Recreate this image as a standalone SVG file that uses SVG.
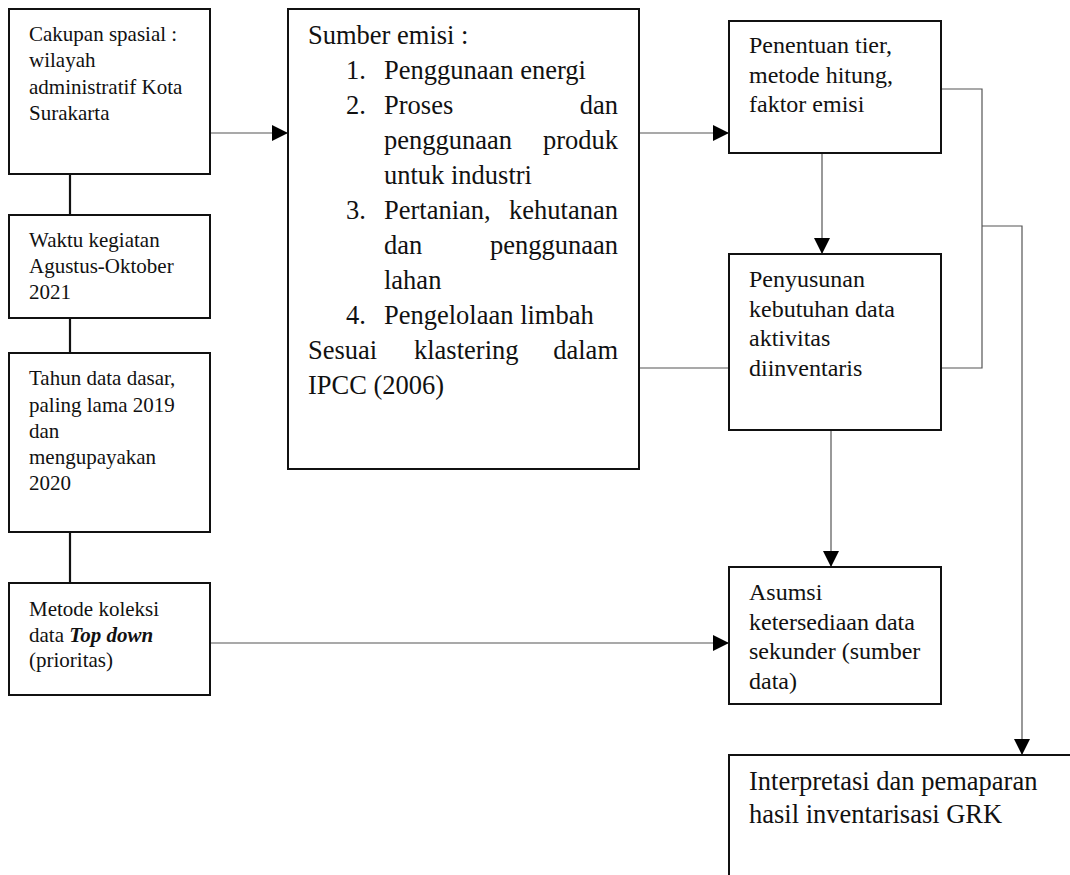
<svg xmlns="http://www.w3.org/2000/svg" width="1070" height="875" viewBox="0 0 1070 875">
<style>
.box{fill:#fff;stroke:#111;stroke-width:2}
.t{font-family:"Liberation Serif","Times New Roman",serif;fill:#111}
.s{font-size:21px}
.m{font-size:24px}
.l{font-size:26.5px}
.c{fill:none;stroke:#555;stroke-width:1.2}
.k{fill:none;stroke:#111;stroke-width:2.2}
</style>
<defs>
<marker id="ah" markerUnits="userSpaceOnUse" markerWidth="17" markerHeight="17" refX="16" refY="8" orient="auto">
<path d="M0,0 L16,8 L0,16 Z" fill="#000"/>
</marker>
</defs>
<rect width="1070" height="875" fill="#fff"/>
<g id="connectors">
<path class="k" d="M70,174 V215"/>
<path class="k" d="M70,318 V353"/>
<path class="k" d="M70,532 V583"/>
<path class="c" d="M210,133 H288" marker-end="url(#ah)"/>
<path class="c" d="M639,133 H729" marker-end="url(#ah)"/>
<path class="c" d="M822,153 V254" marker-end="url(#ah)"/>
<path class="c" d="M941,89 H982 V368 H941"/>
<path class="c" d="M982,226 H1022 V755" marker-end="url(#ah)"/>
<path class="c" d="M639,368 H729"/>
<path class="c" d="M831,430 V567" marker-end="url(#ah)"/>
<path class="c" d="M210,643 H729" marker-end="url(#ah)"/>
</g>
<g id="cakupan">
<rect class="box" x="9" y="9" width="201" height="165"/>
<text class="t s" x="29" y="40.5">Cakupan spasial :</text>
<text class="t s" x="29" y="67">wilayah</text>
<text class="t s" x="29" y="93.5">administratif Kota</text>
<text class="t s" x="29" y="120">Surakarta</text>
</g>
<g id="waktu">
<rect class="box" x="9" y="215" width="201" height="103"/>
<text class="t s" x="29" y="246.5">Waktu kegiatan</text>
<text class="t s" x="29" y="273">Agustus-Oktober</text>
<text class="t s" x="29" y="299">2021</text>
</g>
<g id="tahun">
<rect class="box" x="9" y="353" width="201" height="179"/>
<text class="t s" x="29" y="385">Tahun data dasar,</text>
<text class="t s" x="29" y="411.5">paling lama 2019</text>
<text class="t s" x="29" y="437.5">dan</text>
<text class="t s" x="29" y="464">mengupayakan</text>
<text class="t s" x="29" y="490">2020</text>
</g>
<g id="metode">
<rect class="box" x="9" y="583" width="201" height="112"/>
<text class="t s" x="29" y="616">Metode koleksi</text>
<text class="t s" x="29" y="641.5">data <tspan font-weight="bold" font-style="italic">Top down</tspan></text>
<text class="t s" x="29" y="667">(prioritas)</text>
</g>
<g id="sumber">
<rect class="box" x="288" y="9" width="351" height="460"/>
<text class="t l" x="308" y="44">Sumber emisi :</text>
<text class="t l" x="346" y="79">1.</text>
<text class="t l" x="384" y="79">Penggunaan energi</text>
<text class="t l" x="346" y="114">2.</text>
<text class="t l" x="384" y="114">Proses</text>
<text class="t l" x="618" y="114" text-anchor="end">dan</text>
<text class="t l" x="384" y="149">penggunaan</text>
<text class="t l" x="618" y="149" text-anchor="end">produk</text>
<text class="t l" x="384" y="184">untuk industri</text>
<text class="t l" x="346" y="219">3.</text>
<text class="t l" x="384" y="219">Pertanian,</text>
<text class="t l" x="618" y="219" text-anchor="end">kehutanan</text>
<text class="t l" x="384" y="254">dan</text>
<text class="t l" x="618" y="254" text-anchor="end">penggunaan</text>
<text class="t l" x="384" y="289">lahan</text>
<text class="t l" x="346" y="324">4.</text>
<text class="t l" x="384" y="324">Pengelolaan limbah</text>
<text class="t l" x="308" y="359">Sesuai</text>
<text class="t l" x="414" y="359">klastering</text>
<text class="t l" x="618" y="359" text-anchor="end">dalam</text>
<text class="t l" x="308" y="394">IPCC (2006)</text>
</g>
<g id="penentuan">
<rect class="box" x="729" y="21" width="212" height="132"/>
<text class="t m" x="749" y="53">Penentuan tier,</text>
<text class="t m" x="749" y="82.5">metode hitung,</text>
<text class="t m" x="749" y="112">faktor emisi</text>
</g>
<g id="penyusunan">
<rect class="box" x="729" y="254" width="212" height="176"/>
<text class="t m" x="749" y="287">Penyusunan</text>
<text class="t m" x="749" y="316.5">kebutuhan data</text>
<text class="t m" x="749" y="346">aktivitas</text>
<text class="t m" x="749" y="375.5">diinventaris</text>
</g>
<g id="asumsi">
<rect class="box" x="729" y="567" width="212" height="137"/>
<text class="t m" x="749" y="600">Asumsi</text>
<text class="t m" x="749" y="629.5">ketersediaan data</text>
<text class="t m" x="749" y="659">sekunder (sumber</text>
<text class="t m" x="749" y="688.5">data)</text>
</g>
<g id="interpretasi">
<path class="box" d="M729,876 V755 H1072"/>
<text class="t l" x="749" y="790">Interpretasi dan pemaparan</text>
<text class="t l" x="749" y="823">hasil inventarisasi GRK</text>
</g>
</svg>
